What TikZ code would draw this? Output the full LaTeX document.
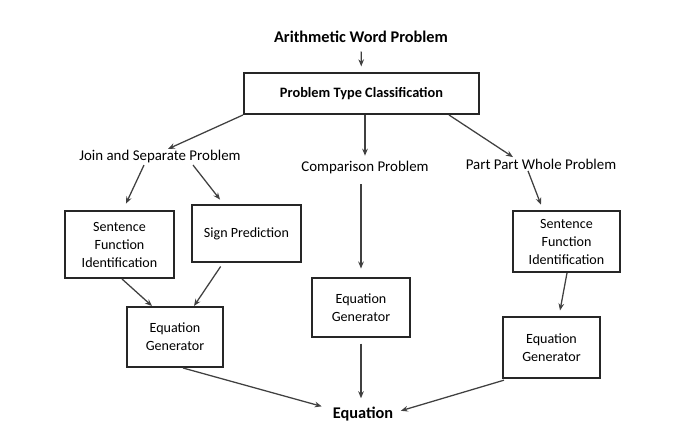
\documentclass[tikz,border=0pt]{standalone}
\usepackage{fontspec}
\setmainfont{Carlito}
\usepackage{xcolor}
\usepackage{tikz}
\usetikzlibrary{arrows.meta, calc}
\definecolor{boxline}{rgb}{0.15,0.15,0.15}
\definecolor{arrowgray}{rgb}{0.25,0.25,0.25}

\begin{document}
\begin{tikzpicture}[x=0.025cm, y=-0.025cm,
        block/.style={rectangle, draw=boxline, line width=1.4pt, fill=white, align=center, inner sep=2pt, font=\fontsize{10}{12.8}\selectfont},
        label/.style={inner sep=1pt, font=\fontsize{10.6}{12}\selectfont},
        heading/.style={inner sep=1pt, font=\fontsize{11.6}{13}\selectfont\bfseries},
        line/.style={draw=arrowgray, -{Stealth[length=5pt, width=4pt]}, line width=0.9pt}]
        \useasboundingbox (0,0) rectangle (700,446);

        \node [heading] (title) at (361,37) {Arithmetic Word Problem};
        \node [block, minimum width=5.875cm, minimum height=1.025cm, font=\fontsize{10.2}{12}\selectfont\bfseries] (ptc) at (361.5,93.5) {Problem Type Classification};

        \node [label] (join) at (160,157) {Join and Separate Problem};
        \node [label] (comp) at (365,168) {Comparison Problem};
        \node [label] (ppw) at (541,164) {Part Part Whole Problem};

        \node [block, minimum width=2.725cm, minimum height=1.675cm] (sfil) at (119.5,244.5) {Sentence\\Function\\Identification};
        \node [block, minimum width=2.725cm, minimum height=1.425cm] (sign) at (246.5,233.5) {Sign Prediction};
        \node [block, minimum width=2.4cm, minimum height=1.5cm] (eql) at (175,337) {Equation\\Generator};

        \node [block, minimum width=2.45cm, minimum height=1.475cm] (eqm) at (361,307.5) {Equation\\Generator};

        \node [block, minimum width=2.675cm, minimum height=1.525cm] (sfir) at (566.5,241.5) {Sentence\\Function\\Identification};
        \node [block, minimum width=2.425cm, minimum height=1.525cm] (eqr) at (551.5,347.5) {Equation\\Generator};

        \node [heading] (eq) at (363,414) {Equation};

        % top part
        \path [line, shorten <=5pt, shorten >=4pt] (title) -- (ptc);
        \path [line] (ptc.south west) -- ($(join.north)+(8,0)$);
        \path [line, shorten >=3pt] (ptc.south -| comp.north) -- (comp.north);
        \path [line] ($(ptc.south east)+(-31,0)$) -- ($(ppw.north)+(-28,0)$);

        % join and separate branch
        \path [line, shorten >=5pt] ($(join.south)+(-16,0)$) -- ($(sfil.north)+(3.5,0)$);
        \path [line, shorten >=4pt] ($(join.south)+(33,0)$) -- ($(sign.north)+(-23,0)$);
        \path [line] ($(sfil.south)+(2.5,0)$) -- ($(eql.north)+(-23,0)$);
        \path [line, shorten <=3pt] ($(sign.south)+(-23.5,0)$) -- ($(eql.north)+(19,0)$);
        \path [line, shorten >=7pt] ($(eql.south)+(8,0)$) -- ($(eq.west)+(0,-5)$);

        % comparison branch
        \path [line, shorten <=6pt, shorten >=6pt] (comp.south -| eqm.north) -- (eqm.north);
        \path [line, shorten <=4pt, shorten >=5pt] (eqm.south) -- (eqm.south |- eq.north);

        % part part whole branch
        \path [line, shorten >=4pt] ($(ppw.south)+(-13,0)$) -- ($(sfir.north)+(-23.5,0)$);
        \path [line, shorten >=4pt] ($(sfir.south)+(0.5,0)$) -- ($(eqr.north)+(7.5,0)$);
        \path [line, shorten <=3pt, shorten >=3pt] ($(eqr.south west)+(6,0)$) -- ($(eq.east)+(2,-2)$);
    \end{tikzpicture}
\end{document}
